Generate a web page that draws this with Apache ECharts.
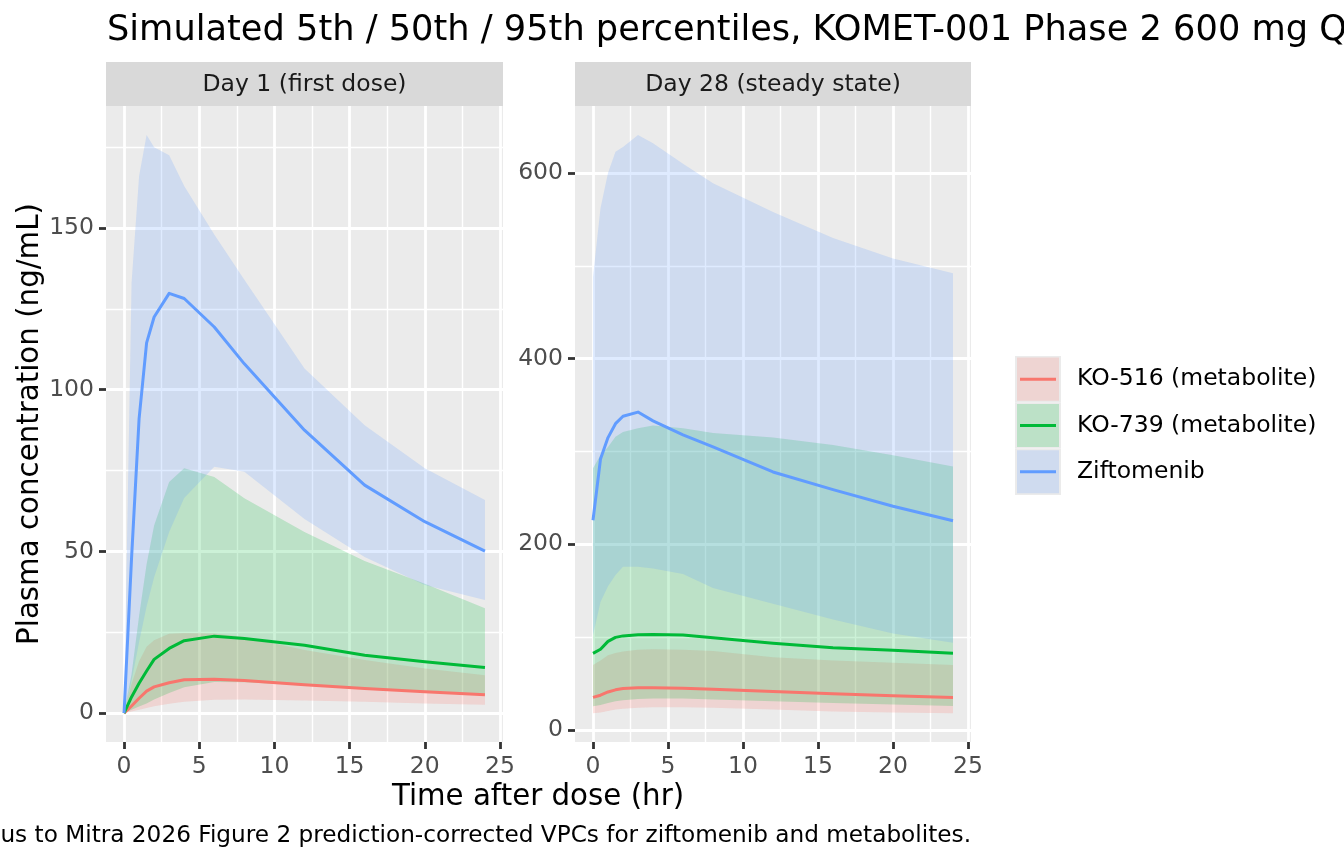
<!DOCTYPE html>
<html>
<head>
<meta charset="utf-8">
<script src="https://cdn.jsdelivr.net/npm/echarts@6.0.0/dist/echarts.min.js"></script>
<style>
html,body{margin:0;padding:0;background:#fff;}
#chart{width:1344px;height:864px;}
</style>
</head>
<body>
<div id="chart"></div>
<script>
// ---------------- data ----------------
const times = [0, 0.5, 1, 1.5, 2, 3, 4, 6, 8, 12, 16, 20, 24];
const xTicks = [0, 5, 10, 15, 20, 25];
const xMinor = [2.5, 7.5, 12.5, 17.5, 22.5];
const yTicksDay1 = [0, 50, 100, 150];
const yMinorDay1 = [25, 75, 125, 175];
const yTicksDay28 = [0, 200, 400, 600];
const yMinorDay28 = [100, 300, 500];

const seriesNames = ['KO-516 (metabolite)', 'KO-739 (metabolite)', 'Ziftomenib'];
const seriesColors = ['#F8766D', '#00BA38', '#619CFF'];
const facetNames = ['Day 1 (first dose)', 'Day 28 (steady state)'];

// Day 1
const ko516Med1 = [0, 2.2, 4.6, 6.8, 8.1, 9.4, 10.3, 10.5, 10.1, 8.8, 7.6, 6.6, 5.7];
const ko516Lo1  = [0, 0.5, 1.0, 1.6, 2.1, 2.9, 3.5, 4.1, 4.2, 3.9, 3.5, 3.0, 2.6];
const ko516Hi1  = [0, 9, 16, 20.5, 22.5, 24.5, 24.8, 24.6, 23.5, 19.5, 16.4, 13.8, 11.7];
const ko739Med1 = [0, 5, 9.2, 13, 16.6, 20, 22.4, 23.8, 23.1, 21, 17.9, 15.9, 14.1];
const ko739Lo1  = [0, 1, 2, 3, 4.2, 6.2, 8, 9.6, 9.5, 8.6, 7.5, 6.5, 5.7];
const ko739Hi1  = [0, 12, 30, 46, 58, 71.5, 75.7, 73, 66.4, 56, 47, 40, 32.4];
const zifMed1   = [0, 48, 91, 114.5, 122.5, 129.8, 128.2, 119.4, 108, 87.5, 70.5, 59.2, 50.1];
const zifLo1    = [0, 10, 22, 33, 42, 56, 66.5, 76.2, 74.6, 60, 48.3, 39.6, 35];
const zifHi1    = [0, 133, 166, 178.8, 175, 172.5, 163, 148, 134, 106.6, 89, 75.7, 65.9];

// Day 28
const ko516Med28 = [35.2, 37.5, 41, 43.3, 44.7, 45.5, 45.6, 45, 44, 41.5, 39, 36.8, 35];
const ko516Lo28  = [18.2, 19, 20.5, 22, 23, 24, 24.5, 24.5, 24, 22, 20, 18.8, 18.2];
const ko516Hi28  = [70, 75, 80.5, 83, 84.5, 86.5, 87, 86.5, 85, 78.5, 75, 72.5, 70];
const ko739Med28 = [82.6, 87, 95.5, 99.8, 101.4, 102.6, 103, 102.3, 99.5, 93.5, 88.5, 86, 82.6];
const ko739Lo28  = [25.5, 27, 29, 31, 32, 33.5, 34, 34, 33, 31, 29, 27.5, 26];
const ko739Hi28  = [282, 296, 305, 316, 321, 325, 328, 325, 320, 315, 307, 296, 284];
const zifMed28   = [226, 292, 315, 330, 338, 342.5, 333, 318, 305, 278, 259, 241, 225.5];
const zifLo28    = [102, 138, 155, 167, 176, 176, 174, 168, 153, 136, 119, 104, 94];
const zifHi28    = [488, 562, 600, 623, 628, 641, 632, 610, 589, 558, 530, 508, 492];

const titleText = 'Simulated 5th / 50th / 95th percentiles, KOMET-001 Phase 2 600 mg QD';
const captionText = 'Analogous to Mitra 2026 Figure 2 prediction-corrected VPCs for ziftomenib and metabolites.';
const xTitle = 'Time after dose (hr)';
const yTitle = 'Plasma concentration (ng/mL)';

// ---------------- chart ----------------
const FONT = 'DejaVu Sans';
const chart = echarts.init(document.getElementById('chart'), null, {renderer: 'canvas'});

const grids = [
  {left: 106, top: 106, width: 397, height: 636},
  {left: 575, top: 106, width: 396, height: 636}
];
const yRanges = [[-8.94, 187.74], [-12.9, 672.2]];
const yMajors = [yTicksDay1, yTicksDay28];
const yMinors = [yMinorDay1, yMinorDay28];

const xAxes = [], yAxes = [];
grids.forEach((g, gi) => {
  xAxes.push({
    type: 'value', gridIndex: gi, min: -1.2, max: 25.2, position: 'bottom',
    axisLine: {show: false, onZero: false},
    axisTick: {show: true, customValues: xTicks, length: 7, lineStyle: {color: '#333333', width: 2.8}},
    axisLabel: {show: true, customValues: xTicks, color: '#4D4D4D', fontSize: 23.5, fontFamily: FONT, margin: 13},
    splitLine: {show: true, lineStyle: {color: '#FFFFFF', width: 2.8}}
  });
  xAxes.push({
    type: 'value', gridIndex: gi, min: -1.2, max: 25.2, position: 'bottom',
    axisLine: {show: false, onZero: false},
    axisTick: {show: false, customValues: xMinor},
    axisLabel: {show: false, customValues: xMinor},
    splitLine: {show: true, lineStyle: {color: '#FFFFFF', width: 1.4}}
  });
  yAxes.push({
    type: 'value', gridIndex: gi, min: yRanges[gi][0], max: yRanges[gi][1], position: 'left',
    axisLine: {show: false, onZero: false},
    axisTick: {show: true, customValues: yMajors[gi], length: 7, lineStyle: {color: '#333333', width: 2.8}},
    axisLabel: {show: true, customValues: yMajors[gi], color: '#4D4D4D', fontSize: 23.5, fontFamily: FONT, margin: 12},
    splitLine: {show: true, lineStyle: {color: '#FFFFFF', width: 2.8}}
  });
  yAxes.push({
    type: 'value', gridIndex: gi, min: yRanges[gi][0], max: yRanges[gi][1], position: 'left',
    axisLine: {show: false, onZero: false},
    axisTick: {show: false, customValues: yMinors[gi]},
    axisLabel: {show: false, customValues: yMinors[gi]},
    splitLine: {show: true, lineStyle: {color: '#FFFFFF', width: 1.4}}
  });
});

function ribbon(name, color, lo, hi, gi) {
  return {
    type: 'custom', name: name, xAxisIndex: gi * 2, yAxisIndex: gi * 2,
    data: [[times[0], lo[0]]], clip: true, silent: true,
    renderItem: function (params, api) {
      const pts = [];
      for (let i = 0; i < times.length; i++) pts.push(api.coord([times[i], hi[i]]));
      for (let i = times.length - 1; i >= 0; i--) pts.push(api.coord([times[i], lo[i]]));
      return {type: 'polygon', shape: {points: pts}, style: {fill: color, opacity: 0.2}};
    }
  };
}
function medLine(name, color, med, gi) {
  return {
    type: 'line', name: name, xAxisIndex: gi * 2, yAxisIndex: gi * 2,
    data: times.map((t, i) => [t, med[i]]),
    showSymbol: false, symbol: 'none', silent: true, animation: false,
    lineStyle: {color: color, width: 3, cap: 'butt', join: 'round'}
  };
}

const facets = [
  {lo: [ko516Lo1, ko739Lo1, zifLo1], hi: [ko516Hi1, ko739Hi1, zifHi1], med: [ko516Med1, ko739Med1, zifMed1]},
  {lo: [ko516Lo28, ko739Lo28, zifLo28], hi: [ko516Hi28, ko739Hi28, zifHi28], med: [ko516Med28, ko739Med28, zifMed28]}
];
const series = [];
facets.forEach((f, gi) => {
  for (let k = 0; k < 3; k++) series.push(ribbon(seriesNames[k], seriesColors[k], f.lo[k], f.hi[k], gi));
  for (let k = 0; k < 3; k++) series.push(medLine(seriesNames[k], seriesColors[k], f.med[k], gi));
});

// graphics: strips, titles, legend
const graphics = [];
grids.forEach((g, gi) => {
  graphics.push({type: 'rect', shape: {x: g.left, y: 62, width: g.width, height: 44}, style: {fill: '#D9D9D9'}, silent: true});
  graphics.push({type: 'text', x: g.left + g.width / 2, y: 85,
    style: {text: facetNames[gi], fill: '#1A1A1A', font: '23.5px "' + FONT + '"', textAlign: 'center', textVerticalAlign: 'middle'}});
});
graphics.push({type: 'text', x: 107, y: 31,
  style: {text: titleText, fill: '#000000', font: '35.2px "' + FONT + '"', textAlign: 'left', textVerticalAlign: 'middle'}});
graphics.push({type: 'text', x: 538, y: 797,
  style: {text: xTitle, fill: '#000000', font: '29.3px "' + FONT + '"', textAlign: 'center', textVerticalAlign: 'middle'}});
graphics.push({type: 'text', x: 30, y: 424, rotation: Math.PI / 2,
  style: {text: yTitle, fill: '#000000', font: '29.3px "' + FONT + '"', textAlign: 'center', textVerticalAlign: 'middle'}});
graphics.push({type: 'text', x: 971, y: 836,
  style: {text: captionText, fill: '#000000', font: '23.2px "' + FONT + '"', textAlign: 'right', textVerticalAlign: 'middle'}});

// legend
const keyY0 = 356, keyH = 46.3;
for (let k = 0; k < 3; k++) {
  const y = keyY0 + k * keyH;
  graphics.push({type: 'rect', shape: {x: 1015, y: y, width: 46, height: keyH}, style: {fill: '#EBEBEB'}, silent: true});
  graphics.push({type: 'rect', shape: {x: 1017, y: y + 1.6, width: 42, height: keyH - 3.2}, style: {fill: seriesColors[k], opacity: 0.2}, silent: true});
  graphics.push({type: 'line', shape: {x1: 1020, y1: y + keyH / 2, x2: 1056, y2: y + keyH / 2}, style: {stroke: seriesColors[k], lineWidth: 3}, silent: true});
  graphics.push({type: 'text', x: 1077, y: y + keyH / 2,
    style: {text: seriesNames[k], fill: '#000000', font: '23.5px "' + FONT + '"', textAlign: 'left', textVerticalAlign: 'middle'}});
}

chart.setOption({
  animation: false,
  backgroundColor: '#FFFFFF',
  textStyle: {fontFamily: FONT},
  grid: grids.map(g => Object.assign({show: true, backgroundColor: '#EBEBEB', borderWidth: 0}, g)),
  xAxis: xAxes,
  yAxis: yAxes,
  series: series,
  graphic: graphics
});
</script>
</body>
</html>
